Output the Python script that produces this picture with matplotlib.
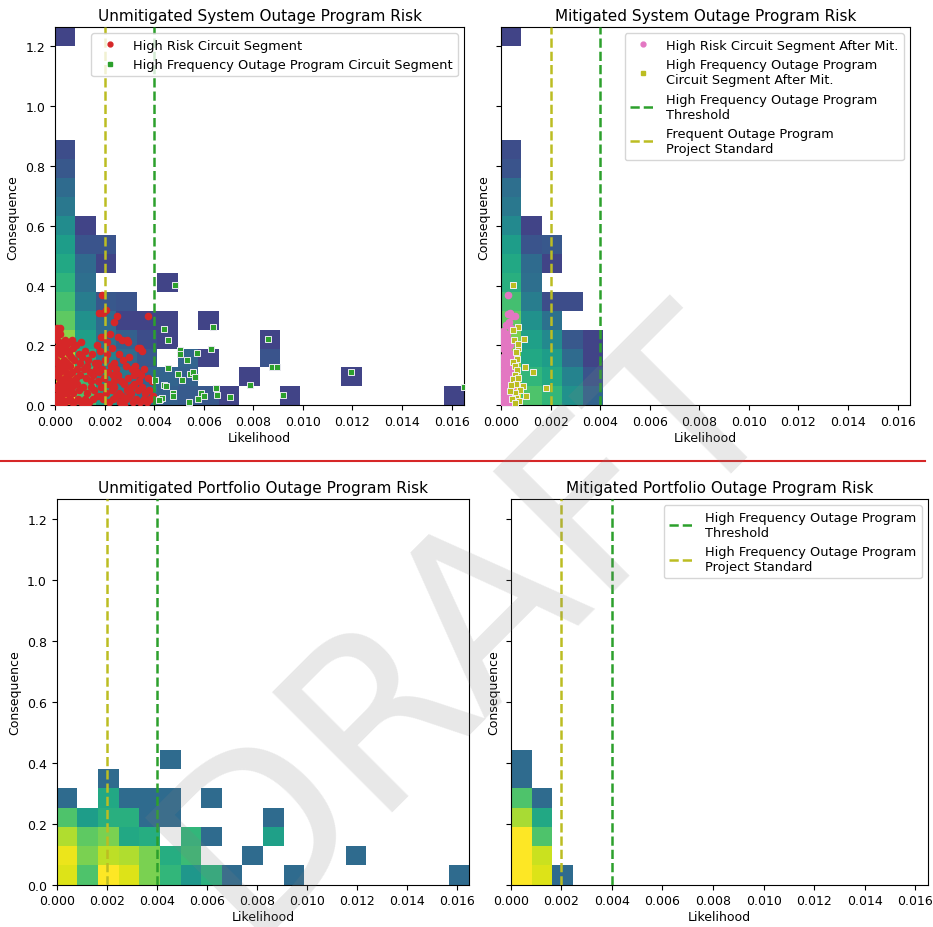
import numpy as np
import matplotlib
matplotlib.use("Agg")
import matplotlib.pyplot as plt
from matplotlib.colors import LogNorm
from matplotlib.lines import Line2D

lik_max = 0.0165
con_max = 1.265
n_bins = 20
hf_threshold = 0.004
project_standard = 0.002

# binned counts, row 0 = lowest consequence bin, 20 likelihood bins per row
sys_unmit_counts = [
    [1200, 145, 45, 22, 13, 8, 7, 6.5, 4, 0, 0, 4, 0, 0, 0, 0, 0, 0, 0, 4],
    [700, 110, 28, 16, 9, 9, 8, 0, 0, 4, 0, 0, 0, 0, 4, 0, 0, 0, 0, 0],
    [440, 72, 20, 11, 6.5, 0, 9, 4, 0, 0, 6, 0, 0, 0, 0, 0, 0, 0, 0, 0],
    [290, 48, 14, 8, 5, 4, 0, 0, 0, 0, 4, 0, 0, 0, 0, 0, 0, 0, 0, 0],
    [178, 32, 11, 4, 4, 4, 0, 4, 0, 0, 0, 0, 0, 0, 0, 0, 0, 0, 0, 0],
    [126, 18, 6.5, 6, 0, 0, 0, 0, 0, 0, 0, 0, 0, 0, 0, 0, 0, 0, 0, 0],
    [89, 12, 0, 0, 0, 4, 0, 0, 0, 0, 0, 0, 0, 0, 0, 0, 0, 0, 0, 0],
    [63, 10.5, 4, 0, 0, 0, 0, 0, 0, 0, 0, 0, 0, 0, 0, 0, 0, 0, 0, 0],
    [45, 6, 6, 0, 0, 0, 0, 0, 0, 0, 0, 0, 0, 0, 0, 0, 0, 0, 0, 0],
    [28, 4, 0, 0, 0, 0, 0, 0, 0, 0, 0, 0, 0, 0, 0, 0, 0, 0, 0, 0],
    [16, 0, 0, 0, 0, 0, 0, 0, 0, 0, 0, 0, 0, 0, 0, 0, 0, 0, 0, 0],
    [11, 0, 0, 0, 0, 0, 0, 0, 0, 0, 0, 0, 0, 0, 0, 0, 0, 0, 0, 0],
    [6.5, 0, 0, 0, 0, 0, 0, 0, 0, 0, 0, 0, 0, 0, 0, 0, 0, 0, 0, 0],
    [5, 0, 0, 0, 0, 0, 0, 0, 0, 0, 0, 0, 0, 0, 0, 0, 0, 0, 0, 0],
    [0] * 20, [0] * 20, [0] * 20, [0] * 20, [0] * 20,
    [4, 0, 0, 0, 0, 0, 0, 0, 0, 0, 0, 0, 0, 0, 0, 0, 0, 0, 0, 0],
]

sys_mit_counts = [
    [1200, 145, 95, 32, 9, 0, 0, 0, 0, 0, 0, 0, 0, 0, 0, 0, 0, 0, 0, 0],
    [440, 95, 63, 22, 6, 0, 0, 0, 0, 0, 0, 0, 0, 0, 0, 0, 0, 0, 0, 0],
    [355, 63, 45, 11, 4, 0, 0, 0, 0, 0, 0, 0, 0, 0, 0, 0, 0, 0, 0, 0],
    [250, 50, 26, 6.5, 4, 0, 0, 0, 0, 0, 0, 0, 0, 0, 0, 0, 0, 0, 0, 0],
    [178, 32, 13, 0, 0, 0, 0, 0, 0, 0, 0, 0, 0, 0, 0, 0, 0, 0, 0, 0],
    [126, 18, 5, 5, 0, 0, 0, 0, 0, 0, 0, 0, 0, 0, 0, 0, 0, 0, 0, 0],
    [78, 12, 0, 0, 0, 0, 0, 0, 0, 0, 0, 0, 0, 0, 0, 0, 0, 0, 0, 0],
    [63, 11, 4, 0, 0, 0, 0, 0, 0, 0, 0, 0, 0, 0, 0, 0, 0, 0, 0, 0],
    [45, 6, 6.5, 0, 0, 0, 0, 0, 0, 0, 0, 0, 0, 0, 0, 0, 0, 0, 0, 0],
    [26, 4, 0, 0, 0, 0, 0, 0, 0, 0, 0, 0, 0, 0, 0, 0, 0, 0, 0, 0],
    [16, 0, 0, 0, 0, 0, 0, 0, 0, 0, 0, 0, 0, 0, 0, 0, 0, 0, 0, 0],
    [12, 0, 0, 0, 0, 0, 0, 0, 0, 0, 0, 0, 0, 0, 0, 0, 0, 0, 0, 0],
    [6, 0, 0, 0, 0, 0, 0, 0, 0, 0, 0, 0, 0, 0, 0, 0, 0, 0, 0, 0],
    [5, 0, 0, 0, 0, 0, 0, 0, 0, 0, 0, 0, 0, 0, 0, 0, 0, 0, 0, 0],
    [0] * 20, [0] * 20, [0] * 20, [0] * 20, [0] * 20,
    [4, 0, 0, 0, 0, 0, 0, 0, 0, 0, 0, 0, 0, 0, 0, 0, 0, 0, 0, 0],
]

port_unmit_counts = [
    [700, 145, 1200, 700, 250, 95, 39, 83, 11, 0, 0, 11, 0, 0, 0, 0, 0, 0, 0, 11],
    [810, 250, 500, 440, 250, 72, 110, 0, 0, 11, 0, 0, 0, 0, 11, 0, 0, 0, 0, 0],
    [440, 178, 250, 63, 72, 0, 95, 11, 0, 0, 50, 0, 0, 0, 0, 0, 0, 0, 0, 0],
    [145, 45, 78, 78, 11, 11, 0, 0, 0, 0, 11, 0, 0, 0, 0, 0, 0, 0, 0, 0],
    [11, 0, 63, 11, 11, 11, 0, 11, 0, 0, 0, 0, 0, 0, 0, 0, 0, 0, 0, 0],
    [0, 0, 11, 0, 0, 0, 0, 0, 0, 0, 0, 0, 0, 0, 0, 0, 0, 0, 0, 0],
    [0, 0, 0, 0, 0, 11, 0, 0, 0, 0, 0, 0, 0, 0, 0, 0, 0, 0, 0, 0],
    [0] * 20, [0] * 20, [0] * 20, [0] * 20, [0] * 20, [0] * 20,
    [0] * 20, [0] * 20, [0] * 20, [0] * 20, [0] * 20, [0] * 20, [0] * 20,
]

port_mit_counts = [
    [1200, 700, 11, 0, 0, 0, 0, 0, 0, 0, 0, 0, 0, 0, 0, 0, 0, 0, 0, 0],
    [1200, 575, 0, 0, 0, 0, 0, 0, 0, 0, 0, 0, 0, 0, 0, 0, 0, 0, 0, 0],
    [1200, 145, 0, 0, 0, 0, 0, 0, 0, 0, 0, 0, 0, 0, 0, 0, 0, 0, 0, 0],
    [410, 63, 0, 0, 0, 0, 0, 0, 0, 0, 0, 0, 0, 0, 0, 0, 0, 0, 0, 0],
    [145, 11, 0, 0, 0, 0, 0, 0, 0, 0, 0, 0, 0, 0, 0, 0, 0, 0, 0, 0],
    [11, 0, 0, 0, 0, 0, 0, 0, 0, 0, 0, 0, 0, 0, 0, 0, 0, 0, 0, 0],
    [11, 0, 0, 0, 0, 0, 0, 0, 0, 0, 0, 0, 0, 0, 0, 0, 0, 0, 0, 0],
    [0] * 20, [0] * 20, [0] * 20, [0] * 20, [0] * 20, [0] * 20,
    [0] * 20, [0] * 20, [0] * 20, [0] * 20, [0] * 20, [0] * 20, [0] * 20,
]

# high risk segments (likelihood in 1e-3, consequence)
high_risk = [
    (0.05, 0.25), (0.10, 0.26), (0.15, 0.25), (0.20, 0.24), (0.08, 0.22), (0.18, 0.21),
    (0.30, 0.20), (0.45, 0.20), (0.60, 0.21), (0.70, 0.22), (0.05, 0.19), (0.12, 0.18),
    (0.25, 0.17), (0.40, 0.18), (0.55, 0.17), (0.65, 0.16), (0.75, 0.15), (0.03, 0.15),
    (0.10, 0.14), (0.20, 0.14), (0.35, 0.15), (0.50, 0.14), (0.62, 0.13), (0.08, 0.12),
    (0.22, 0.11), (0.30, 0.12), (0.45, 0.11), (0.58, 0.10), (0.70, 0.11), (0.02, 0.10),
    (0.15, 0.09), (0.28, 0.08), (0.40, 0.09), (0.52, 0.07), (0.65, 0.08), (0.78, 0.07),
    (0.05, 0.06), (0.12, 0.05), (0.25, 0.05), (0.35, 0.06), (0.48, 0.04), (0.60, 0.05),
    (0.72, 0.04), (0.03, 0.03), (0.10, 0.02), (0.18, 0.03), (0.30, 0.02), (0.42, 0.01),
    (0.55, 0.02), (0.68, 0.01), (0.02, 0.01), (0.08, 0.00), (0.20, 0.01), (0.38, 0.04),
    (0.15, 0.07), (0.45, 0.13), (0.33, 0.19), (0.05, 0.23), (0.22, 0.26), (0.62, 0.02),
    (0.75, 0.01), (0.28, 0.14), (0.12, 0.11), (0.50, 0.10), (0.68, 0.06), (0.25, 0.00),
    (0.40, 0.22), (0.58, 0.18), (0.02, 0.17), (0.72, 0.19),
    (0.85, 0.20), (0.95, 0.17), (1.05, 0.21), (1.10, 0.16), (1.20, 0.18), (1.35, 0.15),
    (1.50, 0.17), (1.60, 0.14), (0.90, 0.12), (1.00, 0.10), (1.15, 0.12), (1.25, 0.09),
    (1.40, 0.11), (1.55, 0.10), (1.65, 0.12), (0.88, 0.07), (0.98, 0.05), (1.12, 0.06),
    (1.30, 0.04), (1.45, 0.06), (1.58, 0.05), (0.92, 0.02), (1.05, 0.01), (1.20, 0.02),
    (1.38, 0.01), (1.52, 0.02), (1.68, 0.03), (1.30, 0.13), (1.00, 0.14), (1.45, 0.08),
    (1.22, 0.00), (0.85, 0.09),
    (1.88, 0.37), (1.77, 0.31), (1.95, 0.31), (2.05, 0.32), (1.85, 0.23), (1.95, 0.23),
    (2.20, 0.24), (1.70, 0.20), (1.80, 0.18), (2.10, 0.17), (2.30, 0.19), (2.40, 0.14),
    (1.75, 0.14), (1.90, 0.12), (2.00, 0.15), (2.15, 0.11), (2.35, 0.10), (2.45, 0.12),
    (1.72, 0.08), (1.85, 0.06), (1.98, 0.09), (2.12, 0.07), (2.28, 0.05), (2.40, 0.08),
    (1.80, 0.03), (1.92, 0.02), (2.05, 0.04), (2.18, 0.01), (2.32, 0.02), (2.45, 0.03),
    (2.25, 0.13), (2.10, 0.21), (1.78, 0.11), (2.38, 0.06),
    (2.49, 0.30), (2.39, 0.28), (3.74, 0.30), (2.55, 0.23), (2.70, 0.22), (2.89, 0.22),
    (2.95, 0.21), (3.33, 0.19), (3.43, 0.19), (3.50, 0.18), (3.23, 0.13), (2.60, 0.17),
    (2.75, 0.15), (2.85, 0.13), (3.00, 0.16), (3.10, 0.12), (3.30, 0.11), (3.45, 0.10),
    (3.60, 0.12), (3.75, 0.09), (3.90, 0.08), (2.55, 0.10), (2.65, 0.08), (2.80, 0.07),
    (2.95, 0.09), (3.05, 0.06), (3.20, 0.07), (3.35, 0.05), (3.50, 0.06), (3.65, 0.04),
    (3.80, 0.05), (3.95, 0.03), (2.58, 0.04), (2.72, 0.03), (2.88, 0.02), (3.00, 0.03),
    (3.15, 0.01), (3.28, 0.02), (3.42, 0.01), (3.58, 0.02), (3.70, 0.01), (3.85, 0.02),
    (2.62, 0.01), (2.78, 0.00), (3.08, 0.04), (3.40, 0.08), (2.92, 0.05), (3.18, 0.10),
]

high_freq = [
    (4.84, 0.402), (4.41, 0.255), (4.54, 0.218), (5.05, 0.184), (5.05, 0.171), (5.31, 0.153),
    (5.71, 0.174), (6.29, 0.188), (6.36, 0.261), (4.54, 0.126), (4.95, 0.105), (5.11, 0.086),
    (5.45, 0.106), (5.55, 0.110), (5.65, 0.094), (4.03, 0.083), (4.40, 0.068), (4.48, 0.066),
    (4.75, 0.041), (4.76, 0.032), (4.25, 0.021), (4.32, 0.023), (4.18, 0.019), (5.90, 0.041),
    (6.00, 0.032), (5.78, 0.022), (5.42, 0.010), (6.50, 0.058), (6.55, 0.035), (7.07, 0.028),
    (7.86, 0.068), (8.60, 0.223), (8.74, 0.128), (8.94, 0.128), (9.20, 0.034), (11.93, 0.110),
    (16.5, 0.060),
]

high_risk_mit = [
    (0.27, 0.369), (0.27, 0.305), (0.35, 0.31), (0.45, 0.30), (0.56, 0.30), (0.32, 0.28),
    (0.20, 0.27), (0.40, 0.26), (0.10, 0.25), (0.25, 0.24), (0.05, 0.23), (0.15, 0.22),
    (0.30, 0.22), (0.08, 0.21), (0.22, 0.20), (0.35, 0.20), (0.04, 0.19), (0.15, 0.18),
    (0.28, 0.18), (0.40, 0.17), (0.08, 0.16), (0.20, 0.16), (0.33, 0.15), (0.45, 0.15),
    (0.03, 0.14), (0.14, 0.14), (0.25, 0.13), (0.38, 0.13), (0.08, 0.12), (0.20, 0.11),
    (0.32, 0.11), (0.45, 0.11), (0.03, 0.10), (0.14, 0.09), (0.26, 0.09), (0.40, 0.09),
    (0.50, 0.08), (0.08, 0.08), (0.20, 0.07), (0.33, 0.07), (0.45, 0.06), (0.03, 0.06),
    (0.14, 0.05), (0.26, 0.05), (0.38, 0.04), (0.52, 0.04), (0.08, 0.04), (0.20, 0.03),
    (0.32, 0.02), (0.45, 0.02), (0.03, 0.02), (0.14, 0.01), (0.26, 0.01), (0.40, 0.00),
    (0.55, 0.01), (0.10, 0.00), (0.35, 0.17), (0.12, 0.24), (0.42, 0.12), (0.50, 0.03),
]

high_freq_mit = [
    (0.50, 0.402), (0.67, 0.262), (0.50, 0.253), (0.94, 0.222), (0.52, 0.218), (0.70, 0.191),
    (0.62, 0.178), (0.65, 0.155), (0.97, 0.127), (1.30, 0.110), (0.88, 0.066), (1.00, 0.032),
    (1.80, 0.057), (0.50, 0.145), (0.58, 0.130), (0.65, 0.118), (0.55, 0.100), (0.48, 0.088),
    (0.70, 0.090), (0.60, 0.072), (0.40, 0.068), (0.75, 0.050), (0.55, 0.040), (0.62, 0.025),
    (0.45, 0.020), (0.72, 0.015), (0.58, 0.008), (0.35, 0.048), (0.68, 0.205),
]

x_edges = np.linspace(0, lik_max, n_bins + 1)
y_edges = np.linspace(0, con_max, n_bins + 1)

fig = plt.figure(figsize=(9.33, 9.28), dpi=100)


def px_axes(left, top, right, bottom):
    return fig.add_axes([left / 933, 1 - bottom / 928, (right - left) / 933, (bottom - top) / 928])


def risk_panel(ax, counts, title, show_ylabels=True):
    grid = np.ma.masked_equal(np.array(counts, dtype=float), 0)
    ax.pcolormesh(x_edges, y_edges, grid, cmap="viridis", norm=LogNorm(vmin=1, vmax=1000))
    ax.axvline(hf_threshold, color="tab:green", ls="--", lw=1.8, zorder=4)
    ax.axvline(project_standard, color="tab:olive", ls="--", lw=1.8, zorder=4)
    ax.set_xlim(0, lik_max)
    ax.set_ylim(0, con_max)
    ax.set_xticks(np.arange(0, 0.0161, 0.002))
    ax.set_xticklabels(["%.3f" % v for v in np.arange(0, 0.0161, 0.002)])
    ax.set_yticks(np.arange(0, 1.21, 0.2))
    ax.set_yticklabels(["%.1f" % v for v in np.arange(0, 1.21, 0.2)])
    ax.tick_params(labelsize=9, labelleft=show_ylabels)
    ax.set_xlabel("Likelihood", fontsize=9, labelpad=2)
    ax.set_ylabel("Consequence", fontsize=9)
    ax.set_title(title, fontsize=11, pad=5)


ax1 = px_axes(55, 28, 464, 406.3)
ax2 = px_axes(501, 28, 910, 406.3)
ax3 = px_axes(56.7, 500, 469.5, 885.7)
ax4 = px_axes(510.7, 500, 928, 885.7)

risk_panel(ax1, sys_unmit_counts, "Unmitigated System Outage Program Risk")
risk_panel(ax2, sys_mit_counts, "Mitigated System Outage Program Risk", False)
risk_panel(ax3, port_unmit_counts, "Unmitigated Portfolio Outage Program Risk")
risk_panel(ax4, port_mit_counts, "Mitigated Portfolio Outage Program Risk", False)

hr = np.array(high_risk).T
hf = np.array(high_freq).T
hrm = np.array(high_risk_mit).T
hfm = np.array(high_freq_mit).T

ax1.scatter(hr[0] / 1000, hr[1], s=20, color="tab:red", zorder=3)
ax1.scatter(hf[0] / 1000, hf[1], s=16, marker="s", color="tab:green",
            edgecolors="#e8e8f0", linewidths=0.7, zorder=3)
h1 = Line2D([], [], ls="", marker="o", ms=3.5, color="tab:red", label="High Risk Circuit Segment")
h2 = Line2D([], [], ls="", marker="s", ms=3, color="tab:green",
            label="High Frequency Outage Program Circuit Segment")
ax1.legend(handles=[h1, h2], loc="upper right", fontsize=9.3)

ax2.scatter(hrm[0] / 1000, hrm[1], s=20, color="tab:pink", zorder=3)
ax2.scatter(hfm[0] / 1000, hfm[1], s=16, marker="s", color="tab:olive",
            edgecolors="#f0f0f0", linewidths=0.7, zorder=3)
h3 = Line2D([], [], ls="", marker="o", ms=3.5, color="tab:pink", label="High Risk Circuit Segment After Mit.")
h4 = Line2D([], [], ls="", marker="s", ms=3, color="tab:olive",
            label="High Frequency Outage Program\nCircuit Segment After Mit.")
l1 = Line2D([], [], color="tab:green", ls="--", lw=1.8, label="High Frequency Outage Program\nThreshold")
l2 = Line2D([], [], color="tab:olive", ls="--", lw=1.8, label="Frequent Outage Program\nProject Standard")
ax2.legend(handles=[h3, h4, l1, l2], loc="upper right", fontsize=9.3)

l3 = Line2D([], [], color="tab:olive", ls="--", lw=1.8, label="High Frequency Outage Program\nProject Standard")
ax4.legend(handles=[l1, l3], loc="upper right", fontsize=9.3)

# separator between the system and portfolio views
fig.add_artist(Line2D([0, 925 / 933], [1 - 462 / 928, 1 - 462 / 928], color="#d62728", lw=1.5))

fig.text(467 / 933, 1 - 623 / 928, "DRAFT", rotation=45, fontsize=168, color="gray",
         alpha=0.18, ha="center", va="center", zorder=10)

fig.savefig("out.png", dpi=100)
